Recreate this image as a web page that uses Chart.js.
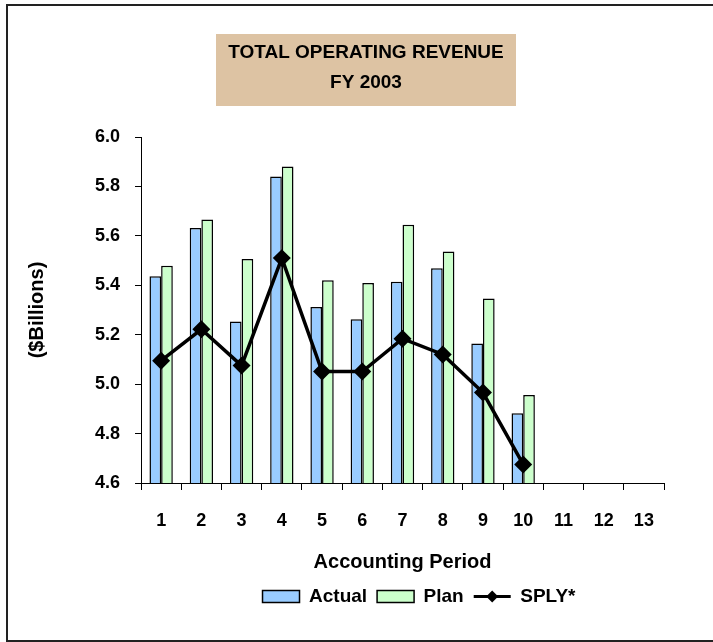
<!DOCTYPE html>
<html><head><meta charset="utf-8">
<script src="https://cdn.jsdelivr.net/npm/chart.js@4/dist/chart.umd.min.js"></script>
<style>
html,body{margin:0;padding:0;background:#fff;overflow:hidden}
#wrap{position:relative;width:713px;height:642px}
#frame{position:absolute;left:6px;top:4px;width:720px;height:638px;border:2px solid #222;box-sizing:border-box}
canvas{position:absolute;left:0;top:0}
</style></head><body>
<div id="wrap"><div id="frame"></div><canvas id="c" width="713" height="642"></canvas></div>
<script>
const categories = ['1','2','3','4','5','6','7','8','9','10','11','12','13'];
const actual = [5.437, 5.632, 5.253, 5.840, 5.312, 5.263, 5.414, 5.469, 5.164, 4.882, null, null, null];
const plan   = [5.479, 5.666, 5.506, 5.881, 5.420, 5.409, 5.645, 5.537, 5.347, 4.956, null, null, null];
const sply   = [5.095, 5.222, 5.075, 5.510, 5.051, 5.051, 5.184, 5.120, 4.966, 4.675, null, null, null];
const yTicks = [4.6, 4.8, 5.0, 5.2, 5.4, 5.6, 5.8, 6.0];
const titleLines = ['TOTAL OPERATING REVENUE', 'FY 2003'];
const seriesNames = ['Actual', 'Plan', 'SPLY*'];

const FONT = "'Liberation Sans', Arial, sans-serif";
const TITLE_PAD_TOP = 38;
const TITLE_LH = 30;

const shiftPlugin = {
  id: 'shift',
  afterLayout(chart) {
    const tb = chart.titleBlock;
    if (tb) { tb.left += 29; tb.right += 29; }
    const lg = chart.legend;
    if (lg) { lg.left += 82; lg.right += 82; }
  }
};

const titleBoxPlugin = {
  id: 'titleBox',
  beforeDraw(chart) {
    const tb = chart.titleBlock;
    const ctx = chart.ctx;
    const cx = (tb.left + tb.right) / 2;
    const textTop = tb.top + TITLE_PAD_TOP;
    ctx.save();
    ctx.fillStyle = '#DDC3A3';
    ctx.fillRect(cx - 150, textTop - 4, 300, TITLE_LH * 2 + 12);
    ctx.restore();
  }
};

const legendLinePlugin = {
  id: 'legendLine',
  afterDraw(chart) {
    const lg = chart.legend;
    if (!lg || !lg.legendHitBoxes) return;
    const hb = lg.legendHitBoxes[2];
    const ctx = chart.ctx;
    const bw = lg.options.labels.boxWidth;
    const fs = 19;
    const y = hb.top + fs / 2;
    ctx.save();
    ctx.strokeStyle = '#000';
    ctx.lineWidth = 3;
    ctx.beginPath();
    ctx.moveTo(hb.left, y);
    ctx.lineTo(hb.left + bw, y);
    ctx.stroke();
    const cx = hb.left + bw / 2, r = 6;
    ctx.fillStyle = '#000';
    ctx.beginPath();
    ctx.moveTo(cx, y - r); ctx.lineTo(cx + r, y); ctx.lineTo(cx, y + r); ctx.lineTo(cx - r, y);
    ctx.closePath(); ctx.fill();
    ctx.restore();
  }
};

new Chart(document.getElementById('c'), {
  data: {
    labels: categories,
    datasets: [
      { type: 'bar', label: seriesNames[0], data: actual, backgroundColor: '#99CCFF', borderColor: '#000', borderWidth: 1.5, order: 2 },
      { type: 'bar', label: seriesNames[1], data: plan, backgroundColor: '#CCFFCC', borderColor: '#000', borderWidth: 1.5, order: 2 },
      { type: 'line', label: seriesNames[2], data: sply, borderColor: '#000', backgroundColor: '#000', borderWidth: 3.5,
        pointStyle: 'rectRot', pointRadius: 6.5, pointBackgroundColor: '#000', pointBorderColor: '#000', tension: 0, order: 1, spanGaps: false }
    ]
  },
  options: {
    responsive: false,
    animation: false,
    layout: { padding: { left: 10, right: 49, top: 0, bottom: 26 } },
    datasets: { bar: { categoryPercentage: 0.58, barPercentage: 1.0 } },
    plugins: {
      title: {
        display: true, text: titleLines, color: '#000',
        font: { family: FONT, size: 19, weight: 'bold', lineHeight: TITLE_LH / 19 },
        padding: { top: TITLE_PAD_TOP, bottom: 39 }
      },
      legend: {
        display: true, position: 'bottom',
        labels: {
          font: { family: FONT, size: 19, weight: 'bold' }, color: '#000',
          boxWidth: 37, boxHeight: 12, padding: 10,
          generateLabels(chart) {
            return chart.data.datasets.map((ds, i) => ({
              text: ds.label,
              fillStyle: ds.type === 'bar' ? ds.backgroundColor : 'rgba(0,0,0,0)',
              strokeStyle: ds.type === 'bar' ? '#000' : 'rgba(0,0,0,0)',
              lineWidth: ds.type === 'bar' ? 1.5 : 0,
              datasetIndex: i, hidden: false, fontColor: '#000'
            }));
          }
        }
      },
      tooltip: { enabled: false }
    },
    scales: {
      x: {
        grid: { display: true, drawOnChartArea: false, drawTicks: true, tickLength: 7, color: '#000', offset: true },
        border: { display: true, color: '#000', width: 1 },
        ticks: { color: '#000', font: { family: FONT, size: 18, weight: 'bold', lineHeight: 1.0 }, padding: 22, maxRotation: 0 },
        title: { display: true, text: 'Accounting Period', color: '#000', font: { family: FONT, size: 20, weight: 'bold', lineHeight: 1.0 }, padding: { top: 0, bottom: 5 } }
      },
      y: {
        min: 4.6, max: 6.0,
        afterBuildTicks(axis) { axis.ticks = yTicks.map(v => ({ value: v })); },
        grid: { display: true, drawOnChartArea: false, drawTicks: true, tickLength: 6, color: '#000' },
        border: { display: true, color: '#000', width: 1 },
        ticks: { color: '#000', font: { family: FONT, size: 18, weight: 'bold' }, padding: 15, callback: v => Number(v).toFixed(1) },
        title: { display: true, text: '($Billions)', color: '#000', font: { family: FONT, size: 20, weight: 'bold' }, padding: { top: 15, bottom: 31 } }
      }
    }
  },
  plugins: [shiftPlugin, titleBoxPlugin, legendLinePlugin]
});
</script>
</body></html>
